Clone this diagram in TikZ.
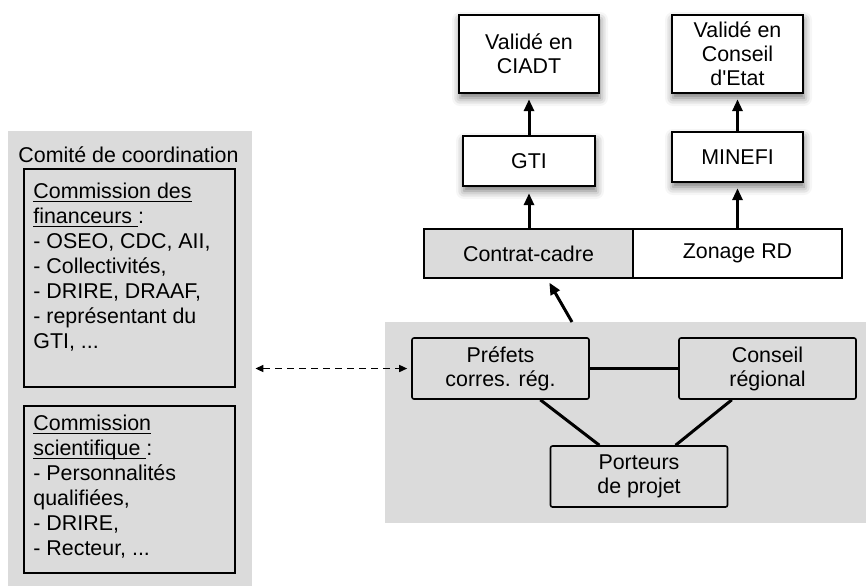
\documentclass[tikz,border=0pt]{standalone}
\usepackage{fontspec}
\setmainfont{Liberation Sans}[Ligatures=TeXOff]
\usetikzlibrary{arrows.meta,shadows.blur,calc}
\definecolor{panelgray}{RGB}{219,219,219}
\newcommand{\ulin}[1]{\setbox0\hbox{#1}\rlap{\rule[-1.7pt]{\wd0}{0.5pt}}\box0}
\begin{document}
\begin{tikzpicture}[x=0.5pt,y=-0.5pt,
  every node/.style={font=\fontsize{10.7}{12}\selectfont},
  topbox/.style={draw=black, line width=1.2pt, fill=white, align=center, inner sep=0pt,
    blur shadow={shadow xshift=0.5pt, shadow yshift=-2.5pt, shadow blur radius=4pt, shadow opacity=55}},
  barbox/.style={draw=black, line width=1.1pt, align=center, inner sep=0pt,
    minimum width=104.5pt, minimum height=24.5pt},
  grpbox/.style={draw=black, line width=0.8pt, fill=panelgray, rounded corners=1pt,
    align=center, inner sep=0pt, minimum width=88.5pt, minimum height=30.5pt},
  combox/.style={draw=black, line width=1pt, fill=panelgray, inner sep=0pt, minimum width=105.5pt},
  panel/.style={fill=panelgray, inner sep=0pt},
  listtext/.style={anchor=north west, align=left, inner sep=0pt, font=\fontsize{10.7}{12.5}\selectfont},
  uparrow/.style={-{Triangle[length=6pt,width=5pt]}, line width=1.5pt},
  link/.style={line width=1.5pt},
  dasharrow/.style={{Triangle[length=4pt,width=3.5pt]}-{Triangle[length=4pt,width=3.5pt]}, line width=0.75pt, dash pattern=on 3.5pt off 2.5pt},
]
\useasboundingbox (0,0) rectangle (866,586);

% panels
\node[panel, minimum width=122pt, minimum height=227.5pt] (comite) at (130,358.5) {};
\node[panel, minimum width=240.5pt, minimum height=100.5pt] (groupe) at (625.5,422.5) {};

% left side
\node[anchor=base west, inner sep=0pt] (comtitle) at (18,162) {Comité de coordination};
\node[combox, minimum height=109pt] (fin) at (129.5,278) {};
\node[combox, minimum height=83.5pt] (sci) at (129.5,489.5) {};
\node[listtext] (fintext) at (33,183) {\ulin{Commission des}\\\ulin{financeurs\ }:\\- OSEO, CDC, AII,\\- Collectivités,\\- DRIRE, DRAAF,\\- représentant du\\GTI, ...};
\node[listtext] (scitext) at (33,415) {\ulin{Commission}\\\ulin{scientifique\ }:\\- Personnalités\\qualifiées,\\- DRIRE,\\- Recteur, ...};

% top right
\node[topbox, minimum width=70pt, minimum height=39pt] (ciadt) at (529,54) {Validé en\\CIADT};
\node[topbox, minimum width=65.5pt, minimum height=39pt] (etat) at (737.5,54) {Validé en\\Conseil\\d'Etat};
\node[topbox, minimum width=66pt, minimum height=25pt] (gti) at (529,161) {GTI};
\node[topbox, minimum width=65.5pt, minimum height=25pt] (minefi) at (737.5,157) {MINEFI};
\node[barbox, fill=panelgray] (contrat) at (528.5,253.5) {Contrat-cadre};
\node[barbox, fill=white] (zonage) at (737.5,253.5) {Zonage RD};

\draw[uparrow, shorten >=2.5pt] (gti.north) -- (ciadt.south);
\draw[uparrow, shorten >=3pt] (contrat.north -| gti.south) -- (gti.south);
\draw[uparrow, shorten >=2.5pt] (minefi.north) -- (etat.south);
\draw[uparrow, shorten >=2.5pt] (zonage.north -| minefi.south) -- (minefi.south);

% group
\node[grpbox] (prefets) at (500.5,368.5) {Préfets\\corres. rég.};
\node[grpbox] (conseil) at (767.5,368.5) {Conseil\\régional};
\node[grpbox] (porteurs) at (639,476.5) {Porteurs\\de projet};

\coordinate (gstart) at (572,322);
\draw[uparrow, shorten >=2pt] (gstart) -- ($(contrat.south west)!0.589!(contrat.south east)$);

\draw[link] (prefets.east) -- (conseil.west);
\draw[link] ($(prefets.south west)!0.723!(prefets.south east)$) -- ($(porteurs.north west)!0.278!(porteurs.north east)$);
\draw[link] ($(conseil.south west)!0.30!(conseil.south east)$) -- ($(porteurs.north west)!0.705!(porteurs.north east)$);

\draw[dasharrow, shorten >=2pt] ([xshift=1.5pt]comite.east |- prefets.west) -- (prefets.west);
\end{tikzpicture}
\end{document}
